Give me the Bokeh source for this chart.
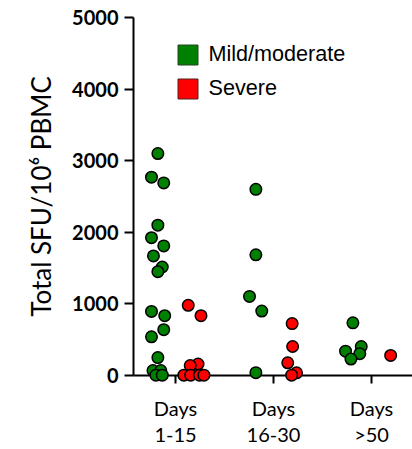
import numpy as np
from bokeh.plotting import figure
from bokeh.models import (ColumnDataSource, Range1d, FixedTicker, Legend, LegendItem)
from bokeh.embed import file_html
from bokeh.resources import INLINE

# ---- data ----
categories = ["Days\n1-15", "Days\n16-30", "Days\n>50"]

# Mild/moderate: group index (1..3), value, horizontal jitter (category units)
mild_group = [1]*18 + [2]*5 + [3]*5
mild_value = [3100, 2770, 2690, 2100, 1925, 1810, 1670, 1515, 1450,
              895, 835, 640, 540, 250, 70, 70, 5, 5,
              2600, 1685, 1105, 900, 40,
              735, 405, 340, 305, 230]
mild_jitter = [-0.18, -0.245, -0.12, -0.18, -0.245, -0.12, -0.225, -0.135, -0.18,
               -0.245, -0.11, -0.12, -0.245, -0.18, -0.23, -0.15, -0.2, -0.135,
               -0.18, -0.18, -0.245, -0.12, -0.18,
               -0.19, -0.105, -0.265, -0.12, -0.21]

# Severe
sev_group = [1]*8 + [2]*5 + [3]*1
sev_value = [980, 835, 160, 140, 5, 5, 5, 5,
             725, 405, 177, 37, 5,
             280]
sev_jitter = [0.13, 0.26, 0.23, 0.15, 0.085, 0.155, 0.245, 0.29,
              0.19, 0.195, 0.145, 0.235, 0.185,
              0.195]

y_ticks = [0, 1000, 2000, 3000, 4000, 5000]
y_max = 5000

GREEN = "#008000"
RED = "#ff0000"

mild_src = ColumnDataSource(dict(x=np.array(mild_group) + np.array(mild_jitter), y=mild_value))
sev_src = ColumnDataSource(dict(x=np.array(sev_group) + np.array(sev_jitter), y=sev_value))

p = figure(width=412, height=449, output_backend="svg", toolbar_location=None,
           x_range=Range1d(0.5714, 3.418), y_range=Range1d(0, y_max),
           min_border_left=133, min_border_right=0, min_border_top=17, min_border_bottom=73,
           outline_line_color=None)
p.grid.visible = False
p.background_fill_color = "white"

r1 = p.scatter("x", "y", source=mild_src, size=11.5, fill_color=GREEN, line_color="black", line_width=1.5)
r2 = p.scatter("x", "y", source=sev_src, size=11.5, fill_color=RED, line_color="black", line_width=1.5)
r1.level = "overlay"
r2.level = "overlay"

# legend proxies (squares, not drawn in the plot area)
nan = float("nan")
q1 = p.quad(left=[nan], right=[nan], top=[nan], bottom=[nan], fill_color=GREEN, line_color="#224422", line_width=1)
q2 = p.quad(left=[nan], right=[nan], top=[nan], bottom=[nan], fill_color=RED, line_color="#552222", line_width=1)
legend = Legend(items=[LegendItem(label="Mild/moderate", renderers=[q1]),
                       LegendItem(label="Severe", renderers=[q2])],
                location=(41.5, 274), padding=0, margin=0, spacing=8,
                glyph_width=25, glyph_height=25, label_height=25, label_standoff=9,
                label_text_font="Liberation Sans", label_text_font_size="21.6px",
                label_text_color="black",
                border_line_color=None, background_fill_alpha=0)
p.add_layout(legend)

# y axis
ya = p.yaxis[0]
ya.ticker = FixedTicker(ticks=y_ticks)
ya.minor_tick_line_color = None
ya.major_tick_in = 0
ya.major_tick_out = 9
ya.major_tick_line_width = 2
ya.axis_line_width = 2
ya.major_label_text_font = "Lato"
ya.major_label_text_font_style = "bold"
ya.major_label_text_font_size = "20px"
ya.major_label_text_color = "black"
ya.major_label_standoff = 6
ya.axis_label = "Total SFU/10\u2076 PBMC"
ya.axis_label_text_font = "Lato"
ya.axis_label_text_font_style = "normal"
ya.axis_label_text_font_size = "26px"
ya.axis_label_text_color = "black"
ya.axis_label_standoff = 12

# x axis
xa = p.xaxis[0]
xa.ticker = FixedTicker(ticks=[1, 2, 3])
xa.major_label_overrides = {1: categories[0], 2: categories[1], 3: categories[2]}
xa.minor_tick_line_color = None
xa.major_tick_in = 0
xa.major_tick_out = 8
xa.major_tick_line_width = 2
xa.axis_line_width = 2
xa.major_label_text_font = "Lato"
xa.major_label_text_font_size = "20px"
xa.major_label_text_color = "black"
xa.major_label_text_line_height = 1.12
xa.major_label_standoff = 12

open("out.html", "w").write(file_html(p, INLINE))
